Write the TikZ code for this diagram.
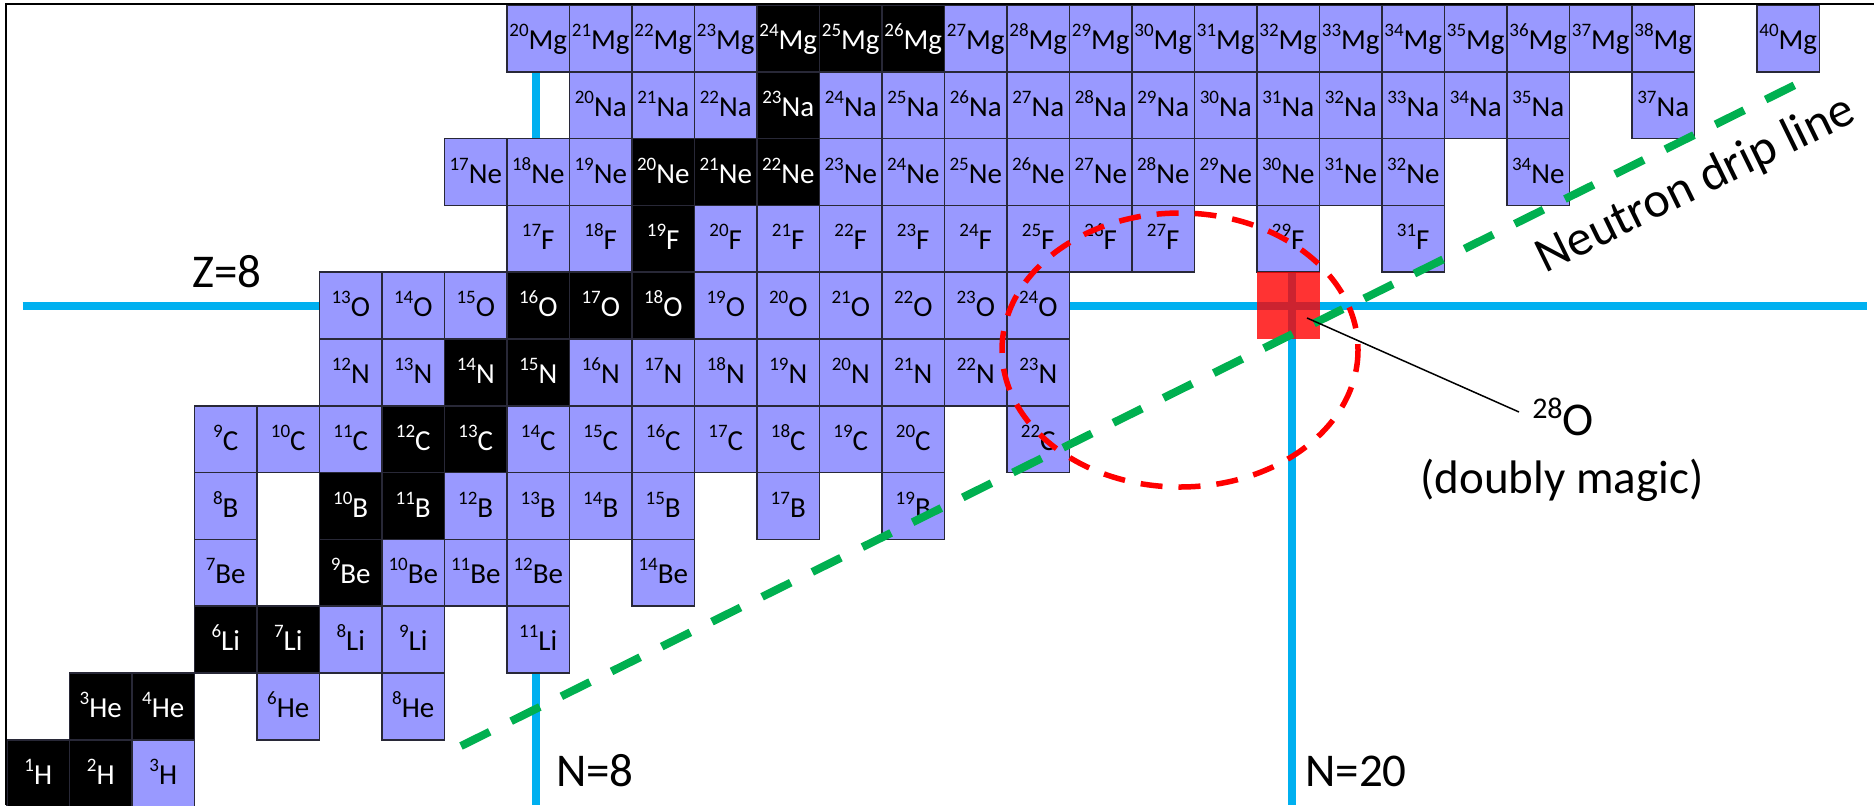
\documentclass[tikz,border=0pt]{standalone}
\usepackage{fontspec}
\setmainfont{Carlito}
\definecolor{skyb}{RGB}{0,176,240}
\definecolor{lav}{RGB}{153,153,255}
\definecolor{dripgreen}{RGB}{0,176,80}
\definecolor{celledge}{RGB}{40,40,55}
\newcommand\iso[2]{\raisebox{6.5pt}{\fontsize{9.5}{9.5}\selectfont#1}#2}
\newcommand\isorow[3]{%
  \foreach \nn/\st in {#3} {
    \pgfmathsetmacro\cx{38.25+62.5*\nn}
    \pgfmathsetmacro\cy{38.4+(12-#1)*66.8}
    \pgfmathtruncatemacro\mass{#1+\nn}
    \node[\st] (c#1-\nn) at (\cx,\cy) {\iso{\mass}{#2}};
  }}
\tikzset{
  cell/.style={rectangle, minimum width=31.25pt, minimum height=33.4pt, inner sep=0pt,
    draw=celledge, line width=0.75pt, text height=11pt, text depth=0pt,
    font=\fontsize{14.5}{14.5}\selectfont},
  unst/.style={cell, fill=lav, text=black},
  stab/.style={cell, fill=black, text=white},
  magicline/.style={line width=4pt, draw=skyb},
  bigtext/.style={font=\fontsize{23.5}{28}\selectfont, inner sep=0pt, anchor=base},
  dripline/.style={line width=4pt, draw=dripgreen, dash pattern=on 16pt off 12pt},
  ring/.style={line width=2.75pt, draw=red, dash pattern=on 11pt off 8pt},
}
\begin{document}
\begin{tikzpicture}[x=0.5pt, y=-0.5pt]
\fill[white] (0,0) rectangle (1874,805);
\useasboundingbox (0,0) rectangle (1874,805);
% magic-number lines (behind the chart)
\draw[magicline] (22.5,306) -- (1867,306);
\draw[magicline] (536,5) -- (536,805);
\draw[magicline] (1291.5,5) -- (1291.5,805);
% chart of nuclides
\isorow{1}{H}{0/stab,1/stab,2/unst}
\isorow{2}{He}{1/stab,2/stab,4/unst,6/unst}
\isorow{3}{Li}{3/stab,4/stab,5/unst,6/unst,8/unst}
\isorow{4}{Be}{3/unst,5/stab,6/unst,7/unst,8/unst,10/unst}
\isorow{5}{B}{3/unst,5/stab,6/stab,7/unst,8/unst,9/unst,10/unst,12/unst,14/unst}
\isorow{6}{C}{3/unst,4/unst,5/unst,6/stab,7/stab,8/unst,9/unst,10/unst,11/unst,12/unst,13/unst,14/unst,16/unst}
\isorow{7}{N}{5/unst,6/unst,7/stab,8/stab,9/unst,10/unst,11/unst,12/unst,13/unst,14/unst,15/unst,16/unst}
\isorow{8}{O}{5/unst,6/unst,7/unst,8/stab,9/stab,10/stab,11/unst,12/unst,13/unst,14/unst,15/unst,16/unst}
\isorow{9}{F}{8/unst,9/unst,10/stab,11/unst,12/unst,13/unst,14/unst,15/unst,16/unst,17/unst,18/unst,20/unst,22/unst}
\isorow{10}{Ne}{7/unst,8/unst,9/unst,10/stab,11/stab,12/stab,13/unst,14/unst,15/unst,16/unst,17/unst,18/unst,19/unst,20/unst,21/unst,22/unst,24/unst}
\isorow{11}{Na}{9/unst,10/unst,11/unst,12/stab,13/unst,14/unst,15/unst,16/unst,17/unst,18/unst,19/unst,20/unst,21/unst,22/unst,23/unst,24/unst,26/unst}
\isorow{12}{Mg}{8/unst,9/unst,10/unst,11/unst,12/stab,13/stab,14/stab,15/unst,16/unst,17/unst,18/unst,19/unst,20/unst,21/unst,22/unst,23/unst,24/unst,25/unst,26/unst,28/unst}
% 28O (doubly magic)
\node[cell, draw=none, fill=red, fill opacity=0.8] (o28) at (1288.25,305.6) {};
% frame
\draw[line width=1.25pt] (6,805) -- (6,4) -- (1874,4);
% neutron drip line
\coordinate (dripA) at (461,746);
\coordinate (dripB) at (1795,85);
\draw[dripline] (dripA) -- (dripB);
% dashed ellipse
\coordinate (ringc) at (1180,350);
\draw[ring] (ringc) ellipse [x radius=178, y radius=137];
% labels
\node[bigtext] (z8) at (227,287) {Z=8};
\node[bigtext] (n8) at (595,786) {N=8};
\node[bigtext] (n20) at (1356,786) {N=20};
\node[bigtext] (lab28) at (1563,435) {\raisebox{8.5pt}{\fontsize{15}{15}\selectfont 28}O};
\node[bigtext] (labdm) at (1562,493) {(doubly magic)};
\node[bigtext, font=\fontsize{25}{30}\selectfont, rotate=26] (driplab) at (1702,197) {Neutron drip line};
\coordinate (ptrA) at (1307,318);
\coordinate (ptrB) at (1519,412);
\draw[line width=0.75pt] (ptrA) -- (ptrB);
\end{tikzpicture}
\end{document}
